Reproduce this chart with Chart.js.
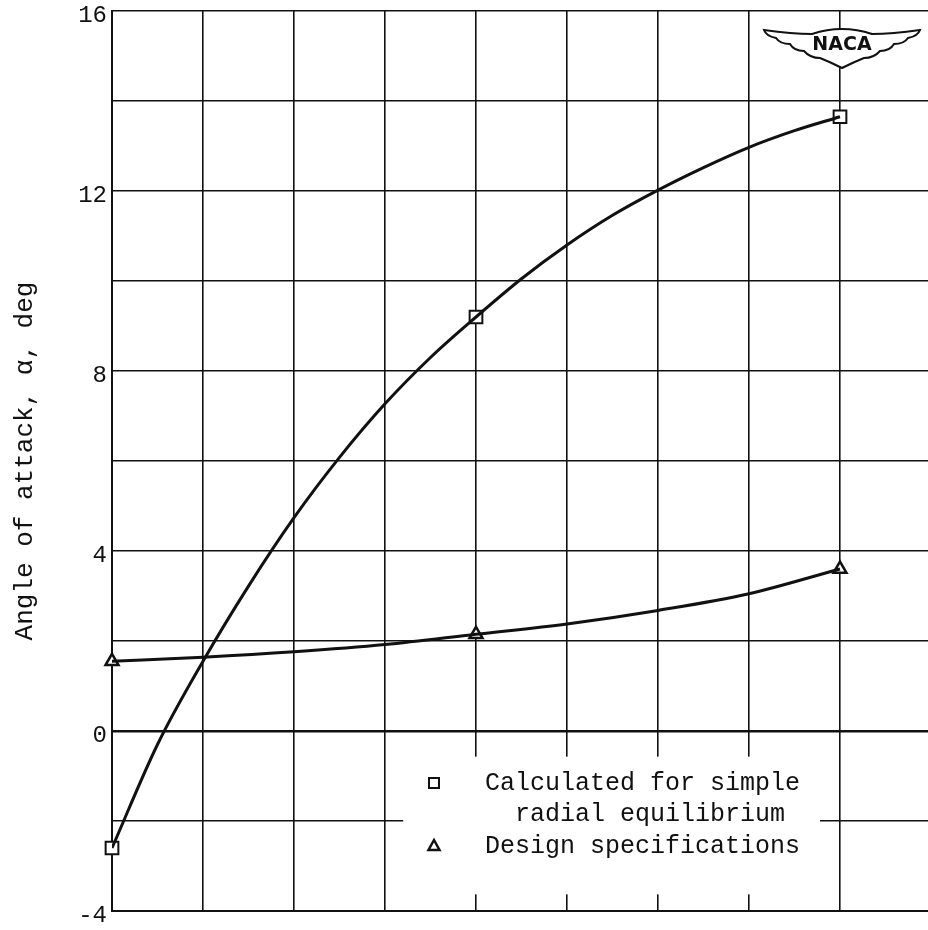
<!DOCTYPE html>
<html>
<head>
<meta charset="utf-8">
<script src="https://cdn.jsdelivr.net/npm/chart.js@4.4.0/dist/chart.umd.min.js"></script>
<style>
  html, body { margin: 0; padding: 0; background: #fff; }
  #wrap { width: 928px; height: 930px; position: relative; }
</style>
</head>
<body>
<div id="wrap"><canvas id="chart"></canvas></div>
<script>
// Measured points (x in grid divisions, no x labels on the sheet)
const pointX = [0, 4, 8];
const calcPoints = [-2.6, 9.2, 13.65];      // squares
const designPoints = [1.55, 2.15, 3.6];     // triangles

// Faired curves
const calcCurveX = [0, 0.5, 1, 1.5, 2, 2.5, 3, 3.5, 4, 4.5, 5, 5.5, 6, 6.5, 7, 7.5, 8];
const calcCurveY = [-2.6, -0.3, 1.55, 3.22, 4.74, 6.08, 7.27, 8.3, 9.2, 10.05, 10.8, 11.46, 12.02, 12.52, 12.97, 13.34, 13.65];
const designCurveX = [0, 1, 2, 3, 4, 5, 6, 7, 8];
const designCurveY = [1.55, 1.64, 1.76, 1.92, 2.15, 2.38, 2.68, 3.05, 3.6];

// Axis
const yLabelValues = [-4, 0, 4, 8, 12, 16];
const yTitle = 'Angle of attack, \u03b1, deg';
const legendLines = ['Calculated for simple', '  radial equilibrium', 'Design specifications'];

const ink = '#111';
const mono = 'Liberation Mono';

function toXY(xs, ys) {
  return xs.map((x, i) => ({ x: x, y: ys[i] }));
}

// white page
const whiteBg = {
  id: 'whiteBg',
  beforeDraw(chart) {
    const c = chart.ctx;
    c.save();
    c.fillStyle = '#fff';
    c.fillRect(0, 0, chart.width, chart.height);
    c.restore();
  }
};

// legend box sitting inside the grid
const legendBox = {
  id: 'legendBox',
  afterDatasetsDraw(chart) {
    const c = chart.ctx;
    const xs = chart.scales.x, ys = chart.scales.y;
    const left = xs.getPixelForValue(3.2), right = xs.getPixelForValue(7.78);
    const top = ys.getPixelForValue(-0.57), bottom = ys.getPixelForValue(-3.63);
    c.save();
    c.fillStyle = '#fff';
    c.fillRect(left, top, right - left, bottom - top);

    const mx = 434;
    c.strokeStyle = ink;
    c.lineWidth = 2;
    c.strokeRect(mx - 5, 783 - 5, 10, 10);
    c.beginPath();
    c.moveTo(mx, 840);
    c.lineTo(mx + 5.5, 850);
    c.lineTo(mx - 5.5, 850);
    c.closePath();
    c.lineWidth = 2.5;
    c.stroke();

    c.fillStyle = ink;
    c.font = '25px "' + mono + '"';
    c.textBaseline = 'middle';
    c.textAlign = 'left';
    c.fillText(legendLines[0], 485, 783);
    c.fillText(legendLines[1], 485, 814);
    c.fillText(legendLines[2], 485, 846);
    c.restore();
  }
};

// NACA wing emblem, top right
const nacaLogo = {
  id: 'nacaLogo',
  afterDatasetsDraw(chart) {
    const c = chart.ctx;
    const cx = 842, cy = 28;
    c.save();
    c.beginPath();
    c.moveTo(cx - 78, cy + 2);
    c.quadraticCurveTo(cx - 50, cy + 6, cx - 30, cy + 6);
    c.quadraticCurveTo(cx, cy - 4, cx + 30, cy + 6);
    c.quadraticCurveTo(cx + 50, cy + 6, cx + 78, cy + 2);
    c.quadraticCurveTo(cx + 76, cy + 8, cx + 66, cy + 10);
    c.quadraticCurveTo(cx + 62, cy + 16, cx + 52, cy + 16);
    c.quadraticCurveTo(cx + 48, cy + 23, cx + 38, cy + 23);
    c.quadraticCurveTo(cx + 32, cy + 30, cx + 22, cy + 30);
    c.quadraticCurveTo(cx + 12, cy + 34, cx, cy + 40);
    c.quadraticCurveTo(cx - 12, cy + 34, cx - 22, cy + 30);
    c.quadraticCurveTo(cx - 32, cy + 30, cx - 38, cy + 23);
    c.quadraticCurveTo(cx - 48, cy + 23, cx - 52, cy + 16);
    c.quadraticCurveTo(cx - 62, cy + 16, cx - 66, cy + 10);
    c.quadraticCurveTo(cx - 76, cy + 8, cx - 78, cy + 2);
    c.closePath();
    c.fillStyle = '#fff';
    c.fill();
    c.lineWidth = 2;
    c.strokeStyle = ink;
    c.stroke();

    c.fillStyle = ink;
    c.font = 'bold 19px "DejaVu Sans"';
    c.textAlign = 'center';
    c.textBaseline = 'middle';
    c.fillText('NACA', cx, cy + 17);
    c.restore();
  }
};

const ctx = document.getElementById('chart').getContext('2d');
const chart = new Chart(ctx, {
  type: 'scatter',
  data: {
    datasets: [
      {
        label: 'calc curve',
        type: 'line',
        data: toXY(calcCurveX, calcCurveY),
        borderColor: ink,
        borderWidth: 3,
        pointRadius: 0,
        fill: false,
        cubicInterpolationMode: 'monotone'
      },
      {
        label: 'design curve',
        type: 'line',
        data: toXY(designCurveX, designCurveY),
        borderColor: ink,
        borderWidth: 3,
        pointRadius: 0,
        fill: false,
        cubicInterpolationMode: 'monotone'
      },
      {
        label: legendLines[0],
        data: toXY(pointX, calcPoints),
        pointStyle: 'rect',
        pointRadius: 9,
        borderColor: ink,
        borderWidth: 2,
        backgroundColor: '#fff',
        clip: false
      },
      {
        label: legendLines[2],
        data: toXY(pointX, designPoints),
        pointStyle: 'triangle',
        pointRadius: 7.5,
        borderColor: ink,
        borderWidth: 2.5,
        backgroundColor: '#fff',
        clip: false
      }
    ]
  },
  options: {
    responsive: true,
    maintainAspectRatio: false,
    animation: false,
    layout: { autoPadding: false, padding: { top: 8, right: 0, bottom: 19, left: 0 } },
    plugins: {
      legend: { display: false },
      tooltip: { enabled: false }
    },
    scales: {
      x: {
        type: 'linear',
        min: 0,
        max: 8.967,
        ticks: { display: false, stepSize: 1, includeBounds: false },
        grid: { color: ink, lineWidth: 1.6, drawTicks: false },
        border: { display: true, color: ink, width: 2 }
      },
      y: {
        type: 'linear',
        min: -4,
        max: 16,
        afterFit(scale) { scale.width = 112; },
        ticks: {
          stepSize: 2,
          padding: 5,
          labelOffset: 5,
          color: ink,
          font: { family: mono, size: 24, lineHeight: 0.5 },
          callback: v => yLabelValues.includes(v) ? String(v) : ''
        },
        grid: {
          color: ink,
          drawTicks: false,
          lineWidth: c => c.tick && c.tick.value === 0 ? 2.5 : 1.6
        },
        border: { display: true, color: ink, width: 2 },
        title: {
          display: true,
          text: yTitle,
          color: ink,
          font: { family: mono, size: 26 },
          padding: { top: 10, bottom: 0 }
        }
      }
    }
  },
  plugins: [whiteBg, legendBox, nacaLogo]
});
</script>
</body>
</html>
